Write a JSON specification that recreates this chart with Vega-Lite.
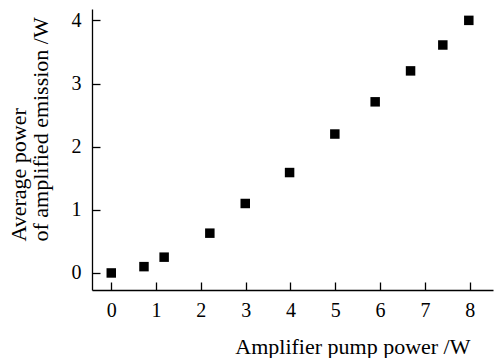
{
  "$schema": "https://vega.github.io/schema/vega-lite/v6.json",
  "width": 401,
  "height": 281,
  "autosize": {"type": "none"},
  "padding": {"left": 92, "top": 9, "right": 1, "bottom": 68},
  "background": "white",
  "config": {
    "view": {"stroke": null},
    "font": "Liberation Serif",
    "axis": {
      "labelFont": "Liberation Serif",
      "titleFont": "Liberation Serif",
      "labelColor": "black",
      "titleColor": "black",
      "domainColor": "black",
      "tickColor": "black",
      "domainWidth": 1.3,
      "tickWidth": 1.3,
      "grid": false,
      "labelFontSize": 20,
      "titleFontSize": 22,
      "titleFontWeight": "normal"
    }
  },
  "data": {
    "values": [
      {"pump": 0, "power": 0.0},
      {"pump": 0.73, "power": 0.1},
      {"pump": 1.18, "power": 0.25},
      {"pump": 2.2, "power": 0.63},
      {"pump": 2.99, "power": 1.1},
      {"pump": 3.98, "power": 1.59},
      {"pump": 4.99, "power": 2.2},
      {"pump": 5.89, "power": 2.71},
      {"pump": 6.68, "power": 3.2},
      {"pump": 7.4, "power": 3.61},
      {"pump": 7.98, "power": 4.0}
    ]
  },
  "mark": {"type": "square", "size": 90, "color": "black", "opacity": 1, "filled": true},
  "encoding": {
    "x": {
      "field": "pump",
      "type": "quantitative",
      "scale": {"domain": [-0.43, 8.52], "nice": false, "zero": false},
      "axis": {
        "values": [0, 1, 2, 3, 4, 5, 6, 7, 8],
        "tickSize": -8,
        "labelPadding": 18,
        "title": "Amplifier pump power /W",
        "titleAlign": "right",
        "titleAnchor": "end",
        "titleBaseline": "alphabetic",
        "titleX": 378,
        "titleY": 63
      }
    },
    "y": {
      "field": "power",
      "type": "quantitative",
      "scale": {"domain": [-0.27, 4.18], "nice": false, "zero": false},
      "axis": {
        "values": [0, 1, 2, 3, 4],
        "tickSize": -8,
        "labelPadding": 19,
        "title": ["Average power", "of amplified emission /W"],
        "titleAngle": -90,
        "titleAlign": "left",
        "titleBaseline": "top",
        "titleX": -84,
        "titleY": 232,
        "titleLineHeight": 22
      }
    }
  }
}
